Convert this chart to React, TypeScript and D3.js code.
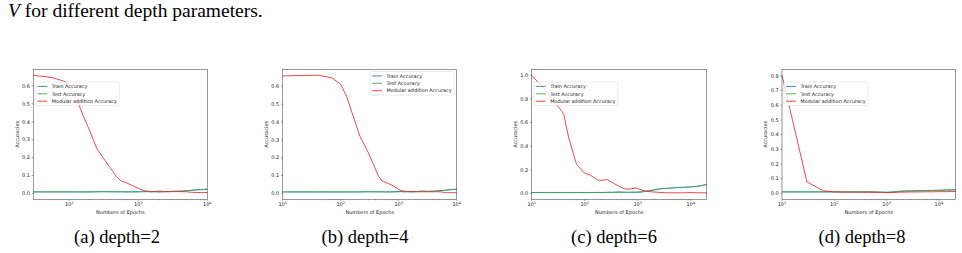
import React from 'react';
import * as d3 from 'd3';

// depth=2
const epochsA = [30, 45, 60, 90, 115, 135, 160, 200, 250, 300, 390, 490, 570, 650, 800, 1000, 1200, 1500, 2000, 2500, 3200, 4000, 5000, 6000, 7000, 8000, 10000];
const trainA = [0.008, 0.008, 0.008, 0.008, 0.008, 0.008, 0.008, 0.008, 0.009, 0.009, 0.009, 0.008, 0.009, 0.008, 0.009, 0.010, 0.012, 0.008, 0.013, 0.010, 0.011, 0.012, 0.015, 0.018, 0.020, 0.021, 0.022];
const testA = [0.009, 0.009, 0.009, 0.009, 0.009, 0.009, 0.009, 0.009, 0.009, 0.010, 0.009, 0.010, 0.009, 0.009, 0.008, 0.007, 0.009, 0.011, 0.008, 0.011, 0.012, 0.013, 0.014, 0.017, 0.019, 0.022, 0.025];
const modA = [0.659, 0.652, 0.644, 0.622, 0.566, 0.503, 0.429, 0.346, 0.250, 0.205, 0.144, 0.090, 0.068, 0.062, 0.045, 0.028, 0.016, 0.010, 0.009, 0.009, 0.010, 0.010, 0.009, 0.006, 0.005, 0.005, 0.005];

// depth=4
const epochsB = [10, 20, 41, 70, 100, 127, 165, 215, 300, 370, 446, 520, 581, 700, 807, 1050, 1300, 1566, 2000, 2500, 3200, 4000, 5150, 6700, 8000, 10000];
const trainB = [0.008, 0.008, 0.008, 0.008, 0.008, 0.008, 0.008, 0.008, 0.009, 0.009, 0.008, 0.009, 0.008, 0.009, 0.010, 0.011, 0.008, 0.012, 0.010, 0.013, 0.011, 0.012, 0.015, 0.019, 0.021, 0.022];
const testB = [0.009, 0.009, 0.009, 0.009, 0.009, 0.009, 0.009, 0.009, 0.010, 0.009, 0.010, 0.009, 0.009, 0.008, 0.007, 0.009, 0.011, 0.008, 0.011, 0.012, 0.012, 0.013, 0.015, 0.018, 0.022, 0.025];
const modB = [0.659, 0.661, 0.663, 0.648, 0.613, 0.542, 0.431, 0.320, 0.228, 0.160, 0.098, 0.070, 0.064, 0.052, 0.042, 0.018, 0.012, 0.009, 0.009, 0.009, 0.009, 0.009, 0.009, 0.004, 0.004, 0.004];

// depth=6
const epochsC = [10, 20, 30, 40, 50, 70, 100, 126, 181, 224, 260, 347, 450, 575, 716, 929, 1190, 1480, 2000, 2640, 3520, 5000, 7000, 10000, 14000, 20000];
const trainC = [0.007, 0.007, 0.007, 0.007, 0.007, 0.007, 0.007, 0.007, 0.008, 0.008, 0.009, 0.010, 0.013, 0.010, 0.009, 0.010, 0.012, 0.019, 0.028, 0.038, 0.042, 0.047, 0.051, 0.054, 0.060, 0.074];
const testC = [0.008, 0.008, 0.008, 0.008, 0.008, 0.008, 0.008, 0.008, 0.008, 0.008, 0.008, 0.008, 0.008, 0.009, 0.010, 0.010, 0.012, 0.020, 0.030, 0.040, 0.043, 0.048, 0.052, 0.055, 0.062, 0.076];
const modC = [1.0, 0.85, 0.75, 0.673, 0.47, 0.246, 0.170, 0.156, 0.111, 0.111, 0.120, 0.086, 0.060, 0.036, 0.036, 0.047, 0.028, 0.017, 0.012, 0.008, 0.005, 0.005, 0.005, 0.007, 0.005, 0.005];

// depth=8
const epochsD = [10, 30, 62, 100, 150, 200, 300, 450, 600, 800, 1000, 1300, 1700, 2200, 3000, 4000, 5500, 7500, 10000, 14000, 21000];
const trainD = [0.010, 0.010, 0.010, 0.010, 0.010, 0.010, 0.011, 0.010, 0.009, 0.008, 0.007, 0.010, 0.015, 0.017, 0.018, 0.019, 0.020, 0.021, 0.022, 0.024, 0.026];
const testD = [0.011, 0.011, 0.011, 0.011, 0.011, 0.010, 0.010, 0.011, 0.010, 0.009, 0.008, 0.009, 0.013, 0.015, 0.016, 0.017, 0.018, 0.019, 0.020, 0.021, 0.022];
const modD = [0.804, 0.078, 0.018, 0.010, 0.009, 0.009, 0.008, 0.008, 0.008, 0.007, 0.005, 0.006, 0.008, 0.009, 0.010, 0.010, 0.011, 0.011, 0.012, 0.012, 0.013];

const yTicksAB = [0, 0.1, 0.2, 0.3, 0.4, 0.5, 0.6];
const yTicksC = [0, 0.2, 0.4, 0.6, 0.8, 1.0];
const yTicksD = [0, 0.1, 0.2, 0.3, 0.4, 0.5, 0.6, 0.7, 0.8];
const xExpsA = [2, 3, 4];
const xExpsBCD = [1, 2, 3, 4];

const seriesNames = ['Train Accuracy', 'Test Accuracy', 'Modular addition Accuracy'];
const captions = ['(a) depth=2', '(b) depth=4', '(c) depth=6', '(d) depth=8'];

const colors = ['#1f77b4', '#3aa53a', '#e8282d'];
const sans = "'DejaVu Sans', sans-serif";
const serif = "'Liberation Serif', 'Times New Roman', serif";
const fs = 5;

type Panel = {
  epochs: number[];
  series: number[][];
  xDomain: [number, number];
  yDomain: [number, number];
  yTicks: number[];
  xExps: number[];
  left: number;
  right: number;
  legend: 'left' | 'right';
  caption: string;
  captionX: number;
};

const top = 69.3;
const bottom = 199.3;

const panels: Panel[] = [
  { epochs: epochsA, series: [trainA, testA, modA], xDomain: [30, 10000], yDomain: [-0.033, 0.693], yTicks: yTicksAB, xExps: xExpsA, left: 33.3, right: 207.3, legend: 'left', caption: captions[0], captionX: 117 },
  { epochs: epochsB, series: [trainB, testB, modB], xDomain: [10, 10000], yDomain: [-0.033, 0.696], yTicks: yTicksAB, xExps: xExpsBCD, left: 282.7, right: 456.7, legend: 'right', caption: captions[1], captionX: 365 },
  { epochs: epochsC, series: [trainC, testC, modC], xDomain: [10, 20000], yDomain: [-0.05, 1.05], yTicks: yTicksC, xExps: xExpsBCD, left: 531.7, right: 706.7, legend: 'left', caption: captions[2], captionX: 614 },
  { epochs: epochsD, series: [trainD, testD, modD], xDomain: [10, 21000], yDomain: [-0.04, 0.844], yTicks: yTicksD, xExps: xExpsBCD, left: 782, right: 955.7, legend: 'left', caption: captions[3], captionX: 862 },
];

function minorTicks([d0, d1]: [number, number]) {
  const out: number[] = [];
  for (let e = Math.floor(Math.log10(d0)); e <= Math.ceil(Math.log10(d1)); e++) {
    for (let m = 2; m <= 9; m++) {
      const v = m * Math.pow(10, e);
      if (v >= d0 && v <= d1) out.push(v);
    }
  }
  return out;
}

function Subplot({ p }: { p: Panel }) {
  const x = d3.scaleLog().domain(p.xDomain).range([p.left, p.right]);
  const y = d3.scaleLinear().domain(p.yDomain).range([bottom, top]);
  const line = d3.line<number>().x((_, i) => x(p.epochs[i])).y(d => y(d));

  const legW = 84;
  const legX = p.legend === 'left' ? p.left + 2 : p.right - 2.7 - legW;
  const legY = p.legend === 'left' ? 82 : 71.5;
  const midY = (top + bottom) / 2;

  return (
    <g>
      {p.series.map((s, i) => (
        <path key={i} d={line(s) || ''} fill="none" stroke={colors[i]} strokeWidth={0.85} opacity={i === 1 ? 0.85 : 1} />
      ))}
      <rect x={p.left} y={top} width={p.right - p.left} height={bottom - top} fill="none" stroke="#333" strokeWidth={0.5} />

      {/* y axis */}
      {p.yTicks.map(t => (
        <g key={t}>
          <line x1={p.left - 1.7} x2={p.left} y1={y(t)} y2={y(t)} stroke="#333" strokeWidth={0.45} />
          <text x={p.left - 3.4} y={y(t)} dy="0.35em" textAnchor="end" fontSize={fs} style={{ fontFamily: sans }} fill="#222">
            {t.toFixed(1)}
          </text>
        </g>
      ))}
      <text transform={`translate(${p.left - 16.5},${midY}) rotate(-90)`} textAnchor="middle" dy="0.35em" fontSize={fs} style={{ fontFamily: sans }} fill="#222">
        Accuracies
      </text>

      {/* x axis (log) */}
      {minorTicks(p.xDomain).map(v => (
        <line key={v} x1={x(v)} x2={x(v)} y1={bottom} y2={bottom + 1} stroke="#333" strokeWidth={0.35} />
      ))}
      {p.xExps.map(e => (
        <g key={e}>
          <line x1={x(Math.pow(10, e))} x2={x(Math.pow(10, e))} y1={bottom} y2={bottom + 1.7} stroke="#333" strokeWidth={0.45} />
          <text x={x(Math.pow(10, e))} y={bottom + 6.4} textAnchor="middle" fontSize={fs} style={{ fontFamily: sans }} fill="#222">
            10<tspan dy={-1.9} fontSize={fs * 0.7}>{e}</tspan>
          </text>
        </g>
      ))}
      <text x={(p.left + p.right) / 2} y={bottom + 15} textAnchor="middle" fontSize={fs} style={{ fontFamily: sans }} fill="#222">
        Numbers of Epochs
      </text>

      {/* legend */}
      <rect x={legX} y={legY} width={legW} height={23.6} rx={1} fill="#fff" fillOpacity={0.8} stroke="#ccc" strokeWidth={0.4} />
      {seriesNames.map((name, i) => {
        const cy = legY + 4.4 + i * 7.4;
        return (
          <g key={name}>
            <line x1={legX + 2} x2={legX + 12} y1={cy} y2={cy} stroke={colors[i]} strokeWidth={0.85} />
            <text x={legX + 16.5} y={cy} dy="0.35em" fontSize={fs * 0.98} style={{ fontFamily: sans }} fill="#222">
              {name}
            </text>
          </g>
        );
      })}

      <text x={p.captionX} y={243} textAnchor="middle" fontSize={18.5} style={{ fontFamily: serif }} fill="#000">
        {p.caption}
      </text>
    </g>
  );
}

export default function App() {
  return (
    <svg width={962} height={253} style={{ position: 'absolute', left: 0, top: 0, background: '#fff' }}>
      <rect width={962} height={253} fill="#fff" />
      <text x={8} y={17} fontSize={19.5} style={{ fontFamily: serif }} fill="#000">
        <tspan fontStyle="italic">V</tspan> for different depth parameters.
      </text>
      {panels.map((p, i) => (
        <Subplot key={i} p={p} />
      ))}
    </svg>
  );
}
